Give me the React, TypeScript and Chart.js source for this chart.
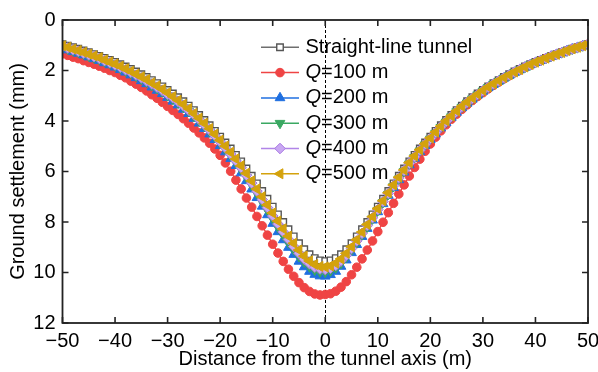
import React, { useEffect, useRef } from "react";
import { Chart, registerables } from "chart.js";
Chart.register(...registerables);

const distance = [
  -50, -49, -48, -47, -46, -45, -44, -43, -42, -41, -40, -39, -38, -37, -36, -35, -34, -33, -32, -31,
  -30, -29, -28, -27, -26, -25, -24, -23, -22, -21, -20, -19, -18, -17, -16, -15, -14, -13, -12, -11,
  -10, -9, -8, -7, -6, -5, -4, -3, -2, -1, 0, 1, 2, 3, 4, 5, 6, 7, 8, 9,
  10, 11, 12, 13, 14, 15, 16, 17, 18, 19, 20, 21, 22, 23, 24, 25, 26, 27, 28, 29,
  30, 31, 32, 33, 34, 35, 36, 37, 38, 39, 40, 41, 42, 43, 44, 45, 46, 47, 48, 49, 50,
];

const straightTunnel = [
  0.96, 1.02, 1.08, 1.14, 1.21, 1.28, 1.35, 1.42, 1.50, 1.58, 1.66, 1.75, 1.84, 1.94, 2.04, 2.15, 2.26, 2.38, 2.50, 2.63,
  2.77, 2.91, 3.06, 3.22, 3.39, 3.57, 3.76, 3.96, 4.17, 4.39, 4.62, 4.85, 5.09, 5.34, 5.60, 5.88, 6.17, 6.47, 6.77, 7.08,
  7.39, 7.70, 8.00, 8.29, 8.57, 8.84, 9.08, 9.28, 9.43, 9.52, 9.55, 9.52, 9.43, 9.28, 9.08, 8.84, 8.57, 8.29, 8.00, 7.70,
  7.39, 7.08, 6.77, 6.47, 6.17, 5.88, 5.60, 5.34, 5.09, 4.85, 4.62, 4.39, 4.17, 3.96, 3.76, 3.57, 3.39, 3.22, 3.06, 2.91,
  2.77, 2.63, 2.50, 2.38, 2.26, 2.15, 2.04, 1.94, 1.84, 1.75, 1.66, 1.58, 1.50, 1.42, 1.35, 1.28, 1.21, 1.14, 1.08, 1.02, 0.96,
];

const q100 = [
  1.34, 1.40, 1.47, 1.53, 1.61, 1.68, 1.75, 1.83, 1.91, 2.00, 2.08, 2.19, 2.29, 2.42, 2.54, 2.67, 2.81, 2.96, 3.10, 3.26,
  3.42, 3.58, 3.74, 3.91, 4.09, 4.28, 4.47, 4.67, 4.88, 5.11, 5.36, 5.66, 5.99, 6.34, 6.69, 7.05, 7.41, 7.78, 8.15, 8.52,
  8.88, 9.23, 9.56, 9.87, 10.15, 10.40, 10.60, 10.75, 10.85, 10.89, 10.87, 10.84, 10.74, 10.58, 10.36, 10.09, 9.79, 9.46, 9.11, 8.75,
  8.38, 8.01, 7.63, 7.26, 6.89, 6.53, 6.18, 5.84, 5.51, 5.20, 4.91, 4.64, 4.39, 4.15, 3.93, 3.73, 3.54, 3.36, 3.19, 3.03,
  2.88, 2.73, 2.59, 2.46, 2.33, 2.21, 2.09, 1.99, 1.88, 1.79, 1.69, 1.61, 1.52, 1.44, 1.37, 1.29, 1.22, 1.15, 1.09, 1.02, 0.96,
];

const q200 = [
  1.13, 1.19, 1.26, 1.32, 1.39, 1.47, 1.54, 1.61, 1.70, 1.78, 1.87, 1.97, 2.07, 2.18, 2.29, 2.41, 2.53, 2.66, 2.79, 2.92,
  3.07, 3.22, 3.37, 3.54, 3.71, 3.90, 4.09, 4.30, 4.52, 4.74, 4.98, 5.23, 5.49, 5.77, 6.06, 6.37, 6.70, 7.04, 7.38, 7.72,
  8.06, 8.39, 8.71, 9.01, 9.29, 9.56, 9.78, 9.96, 10.08, 10.14, 10.15, 10.09, 9.96, 9.76, 9.51, 9.22, 8.90, 8.58, 8.26, 7.93,
  7.60, 7.28, 6.95, 6.64, 6.33, 6.03, 5.74, 5.48, 5.22, 4.98, 4.74, 4.51, 4.28, 4.07, 3.86, 3.66, 3.48, 3.30, 3.14, 2.98,
  2.83, 2.69, 2.56, 2.43, 2.31, 2.20, 2.08, 1.98, 1.88, 1.78, 1.69, 1.61, 1.53, 1.44, 1.37, 1.30, 1.22, 1.15, 1.09, 1.02, 0.96,
];

const q300 = [
  1.08, 1.14, 1.21, 1.27, 1.34, 1.42, 1.49, 1.56, 1.64, 1.72, 1.81, 1.91, 2.01, 2.11, 2.22, 2.34, 2.45, 2.58, 2.71, 2.84,
  2.99, 3.13, 3.28, 3.45, 3.62, 3.81, 4.00, 4.20, 4.42, 4.64, 4.88, 5.12, 5.38, 5.65, 5.93, 6.23, 6.55, 6.88, 7.21, 7.54,
  7.87, 8.20, 8.51, 8.81, 9.09, 9.36, 9.58, 9.77, 9.90, 9.97, 9.98, 9.93, 9.81, 9.63, 9.39, 9.11, 8.81, 8.50, 8.19, 7.87,
  7.54, 7.22, 6.90, 6.59, 6.29, 5.99, 5.70, 5.44, 5.18, 4.94, 4.71, 4.48, 4.25, 4.04, 3.83, 3.63, 3.45, 3.28, 3.12, 2.96,
  2.81, 2.67, 2.54, 2.42, 2.30, 2.19, 2.07, 1.97, 1.87, 1.77, 1.68, 1.60, 1.52, 1.43, 1.36, 1.29, 1.22, 1.15, 1.09, 1.02, 0.96,
];

const q400 = [
  1.05, 1.11, 1.18, 1.24, 1.31, 1.38, 1.45, 1.52, 1.61, 1.69, 1.78, 1.87, 1.97, 2.07, 2.18, 2.29, 2.41, 2.53, 2.66, 2.79,
  2.94, 3.08, 3.23, 3.40, 3.57, 3.75, 3.94, 4.15, 4.36, 4.58, 4.82, 5.06, 5.31, 5.58, 5.85, 6.15, 6.46, 6.78, 7.11, 7.43,
  7.76, 8.08, 8.39, 8.69, 8.97, 9.24, 9.47, 9.65, 9.79, 9.86, 9.88, 9.83, 9.72, 9.54, 9.32, 9.05, 8.75, 8.45, 8.14, 7.83,
  7.51, 7.19, 6.87, 6.56, 6.26, 5.96, 5.68, 5.42, 5.16, 4.92, 4.69, 4.46, 4.23, 4.02, 3.82, 3.62, 3.44, 3.26, 3.10, 2.95,
  2.80, 2.66, 2.53, 2.41, 2.29, 2.18, 2.06, 1.96, 1.86, 1.77, 1.68, 1.60, 1.52, 1.43, 1.36, 1.29, 1.22, 1.15, 1.09, 1.02, 0.96,
];

const q500 = [
  1.02, 1.08, 1.15, 1.21, 1.28, 1.35, 1.42, 1.49, 1.58, 1.66, 1.74, 1.83, 1.93, 2.03, 2.14, 2.25, 2.36, 2.49, 2.61, 2.74,
  2.88, 3.03, 3.18, 3.34, 3.51, 3.70, 3.89, 4.09, 4.30, 4.52, 4.76, 4.99, 5.24, 5.50, 5.77, 6.07, 6.37, 6.69, 7.00, 7.32,
  7.64, 7.96, 8.27, 8.56, 8.84, 9.11, 9.35, 9.54, 9.68, 9.76, 9.78, 9.74, 9.63, 9.46, 9.24, 8.98, 8.70, 8.40, 8.10, 7.79,
  7.47, 7.16, 6.84, 6.53, 6.23, 5.94, 5.65, 5.39, 5.14, 4.90, 4.67, 4.44, 4.21, 4.00, 3.80, 3.60, 3.42, 3.25, 3.09, 2.94,
  2.79, 2.65, 2.52, 2.40, 2.28, 2.17, 2.06, 1.96, 1.86, 1.76, 1.67, 1.59, 1.51, 1.43, 1.36, 1.29, 1.21, 1.14, 1.08, 1.02, 0.96,
];

const seriesNames = ["Straight-line tunnel", "Q=100 m", "Q=200 m", "Q=300 m", "Q=400 m", "Q=500 m"];
const xTicks = [-50, -40, -30, -20, -10, 0, 10, 20, 30, 40, 50];
const yTicks = [0, 2, 4, 6, 8, 10, 12];

const FONT = "Arial, 'Liberation Sans', Helvetica, sans-serif";
const FS = 20;

type Style = {
  line: string;
  fill: string;
  border: string;
  shape: string;
  radius: number;
  rotation: number;
  borderWidth: number;
};

const styles: Style[] = [
  { line: "#6e6e6e", fill: "#ffffff", border: "#555555", shape: "rect", radius: 4.6, rotation: 0, borderWidth: 1.4 },
  { line: "#ef4444", fill: "#ef4444", border: "#ef4444", shape: "circle", radius: 4.3, rotation: 0, borderWidth: 1 },
  { line: "#1f6fe0", fill: "#1f6fe0", border: "#1f6fe0", shape: "triangle", radius: 5.6, rotation: 0, borderWidth: 1 },
  { line: "#3aa862", fill: "#3aa862", border: "#3aa862", shape: "triangle", radius: 5.6, rotation: 180, borderWidth: 1 },
  { line: "#b185e8", fill: "#c9a8f2", border: "#a878e2", shape: "rectRot", radius: 5.3, rotation: 0, borderWidth: 1 },
  { line: "#d4a20c", fill: "#d4a20c", border: "#d4a20c", shape: "triangle", radius: 5.8, rotation: -90, borderWidth: 1 },
];

function drawMarker(ctx: CanvasRenderingContext2D, s: Style, x: number, y: number) {
  const r = s.radius;
  const rad = (s.rotation * Math.PI) / 180;
  ctx.save();
  ctx.fillStyle = s.fill;
  ctx.strokeStyle = s.border;
  ctx.lineWidth = s.borderWidth;
  ctx.beginPath();
  if (s.shape === "circle") {
    ctx.arc(x, y, r, 0, Math.PI * 2);
  } else if (s.shape === "rect") {
    const h = r * Math.SQRT1_2;
    ctx.rect(x - h, y - h, 2 * h, 2 * h);
  } else if (s.shape === "rectRot") {
    ctx.moveTo(x, y - r);
    ctx.lineTo(x + r, y);
    ctx.lineTo(x, y + r);
    ctx.lineTo(x - r, y);
    ctx.closePath();
  } else if (s.shape === "triangle") {
    let a = rad;
    ctx.moveTo(x + Math.sin(a) * r, y - Math.cos(a) * r);
    a += (2 * Math.PI) / 3;
    ctx.lineTo(x + Math.sin(a) * r, y - Math.cos(a) * r);
    a += (2 * Math.PI) / 3;
    ctx.lineTo(x + Math.sin(a) * r, y - Math.cos(a) * r);
    ctx.closePath();
  }
  ctx.fill();
  ctx.stroke();
  ctx.restore();
}

const decorPlugin = {
  id: "decor",
  beforeDatasetsDraw(chart: any) {
    const { ctx, chartArea, scales } = chart;
    const px = Math.round(scales.x.getPixelForValue(0)) + 0.5;
    ctx.save();
    ctx.strokeStyle = "#000";
    ctx.lineWidth = 1;
    ctx.setLineDash([3, 2]);
    ctx.beginPath();
    ctx.moveTo(px, chartArea.top);
    ctx.lineTo(px, chartArea.bottom);
    ctx.stroke();
    ctx.restore();
  },
  afterDatasetsDraw(chart: any) {
    const { ctx, chartArea, scales } = chart;
    const { left, right, top, bottom } = chartArea;
    const tl = 6;
    ctx.save();
    ctx.strokeStyle = "#222";
    ctx.lineWidth = 1.6;
    ctx.beginPath();
    xTicks.forEach((v) => {
      const p = scales.x.getPixelForValue(v);
      ctx.moveTo(p, bottom);
      ctx.lineTo(p, bottom - tl);
      ctx.moveTo(p, top);
      ctx.lineTo(p, top + tl);
    });
    yTicks.forEach((v) => {
      const p = scales.y.getPixelForValue(v);
      ctx.moveTo(left, p);
      ctx.lineTo(left + tl, p);
      ctx.moveTo(right, p);
      ctx.lineTo(right - tl, p);
    });
    ctx.stroke();
    ctx.lineWidth = 1.8;
    ctx.strokeRect(left, top, right - left, bottom - top);
    ctx.restore();
  },
  afterDraw(chart: any) {
    const { ctx } = chart;
    const x0 = 261;
    const x1 = 299;
    const tx = 305.5;
    const y0 = 47.3;
    const dy = 25.3;
    ctx.save();
    seriesNames.forEach((name, i) => {
      const s = styles[i];
      const y = y0 + i * dy;
      ctx.strokeStyle = s.line;
      ctx.lineWidth = 1.5;
      ctx.beginPath();
      ctx.moveTo(x0, y);
      ctx.lineTo(x1, y);
      ctx.stroke();
      drawMarker(ctx, s, (x0 + x1) / 2, y);
      ctx.fillStyle = "#000";
      ctx.textBaseline = "middle";
      ctx.textAlign = "left";
      if (name.startsWith("Q")) {
        ctx.font = `italic ${FS}px ${FONT}`;
        ctx.fillText("Q", tx, y);
        const w = ctx.measureText("Q").width;
        ctx.font = `${FS}px ${FONT}`;
        ctx.fillText(name.slice(1), tx + w, y);
      } else {
        ctx.font = `${FS}px ${FONT}`;
        ctx.fillText(name, tx, y);
      }
    });
    ctx.restore();
  },
};

export default function App() {
  const ref = useRef<HTMLCanvasElement | null>(null);
  useEffect(() => {
    if (!ref.current) return;
    const all = [straightTunnel, q100, q200, q300, q400, q500];
    const datasets = all.map((arr, i) => {
      const s = styles[i];
      return {
        label: seriesNames[i],
        data: distance.map((x, j) => ({ x, y: arr[j] })),
        borderColor: s.line,
        borderWidth: 1.4,
        backgroundColor: s.fill,
        pointStyle: s.shape,
        pointRadius: s.radius,
        pointRotation: s.rotation,
        pointBackgroundColor: s.fill,
        pointBorderColor: s.border,
        pointBorderWidth: s.borderWidth,
        tension: 0,
        order: 6 - i,
      };
    });
    const chart = new Chart(ref.current, {
      type: "line",
      data: { datasets } as any,
      options: {
        animation: false,
        responsive: true,
        maintainAspectRatio: false,
        layout: { padding: { left: 0, right: 10, top: 20, bottom: 0 } },
        plugins: { legend: { display: false }, tooltip: { enabled: false } },
        scales: {
          x: {
            type: "linear",
            min: -50,
            max: 50,
            position: "bottom",
            grid: { display: false, drawTicks: false, tickLength: 0 },
            border: { display: false },
            afterBuildTicks: (scale: any) => {
              scale.ticks = xTicks.map((v) => ({ value: v }));
            },
            ticks: {
              padding: 6.5,
              color: "#000",
              font: { family: FONT, size: FS },
              maxRotation: 0,
              autoSkip: false,
              callback: (v: any) => (Number(v) < 0 ? "\u2212" + Math.abs(Number(v)) : String(v)),
            },
            title: {
              display: true,
              text: "Distance from the tunnel axis (m)",
              color: "#000",
              font: { family: FONT, size: FS },
              padding: { top: 0, bottom: 0.5 },
            },
            afterFit: (scale: any) => {
              scale.height = 49;
              scale.paddingLeft = 0;
              scale.paddingRight = 0;
            },
          },
          y: {
            type: "linear",
            reverse: true,
            min: 0,
            max: 12,
            grid: { display: false, drawTicks: false, tickLength: 0 },
            border: { display: false },
            afterBuildTicks: (scale: any) => {
              scale.ticks = yTicks.map((v) => ({ value: v }));
            },
            ticks: {
              padding: 7,
              color: "#000",
              font: { family: FONT, size: FS },
              autoSkip: false,
            },
            title: {
              display: true,
              text: "Ground settlement (mm)",
              color: "#000",
              font: { family: FONT, size: FS },
              padding: { top: 6, bottom: 0 },
            },
            afterFit: (scale: any) => {
              scale.width = 62.5;
              scale.paddingTop = 0;
              scale.paddingBottom = 0;
            },
          },
        },
      },
      plugins: [decorPlugin],
    } as any);
    return () => chart.destroy();
  }, []);
  return (
    <div style={{ position: "fixed", left: 0, top: 0, width: 598, height: 372, background: "#fff" }}>
      <canvas ref={ref} />
    </div>
  );
}
